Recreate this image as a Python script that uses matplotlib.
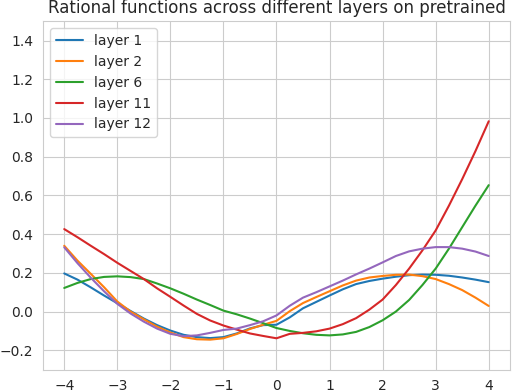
import matplotlib
matplotlib.use("Agg")
import matplotlib.pyplot as plt
import seaborn as sns

# values, every 0.25 along x
x = [-4, -3.75, -3.5, -3.25, -3, -2.75, -2.5, -2.25, -2, -1.75, -1.5, -1.25, -1,
     -0.75, -0.5, -0.25, 0, 0.25, 0.5, 0.75, 1, 1.25, 1.5, 1.75, 2, 2.25, 2.5,
     2.75, 3, 3.25, 3.5, 3.75, 4]

layer1 = [0.197, 0.165, 0.125, 0.083, 0.043, 0.003, -0.036, -0.07, -0.098, -0.12,
          -0.132, -0.137, -0.132, -0.113, -0.087, -0.07, -0.068, -0.03, 0.017, 0.05,
          0.083, 0.115, 0.142, 0.158, 0.17, 0.18, 0.188, 0.191, 0.19, 0.185,
          0.176, 0.165, 0.152]
layer2 = [0.34, 0.263, 0.195, 0.126, 0.052, 0.0, -0.04, -0.078, -0.108, -0.132,
          -0.143, -0.145, -0.138, -0.116, -0.09, -0.068, -0.048, 0.002, 0.044, 0.075,
          0.105, 0.135, 0.16, 0.176, 0.184, 0.19, 0.191, 0.183, 0.168, 0.142,
          0.111, 0.072, 0.029]
layer6 = [0.122, 0.148, 0.168, 0.179, 0.182, 0.178, 0.168, 0.145, 0.12, 0.092,
          0.062, 0.034, 0.005, -0.014, -0.036, -0.06, -0.085, -0.1, -0.112, -0.12,
          -0.123, -0.118, -0.105, -0.08, -0.045, 0.0, 0.06, 0.137, 0.222, 0.325,
          0.436, 0.547, 0.653]
layer11 = [0.426, 0.384, 0.34, 0.297, 0.252, 0.21, 0.168, 0.12, 0.076, 0.031,
           -0.012, -0.046, -0.072, -0.093, -0.113, -0.126, -0.138, -0.115, -0.11, -0.102,
           -0.088, -0.065, -0.034, 0.01, 0.062, 0.137, 0.222, 0.316, 0.419, 0.547,
           0.684, 0.829, 0.983]
layer12 = [0.332, 0.25, 0.175, 0.105, 0.04, -0.01, -0.052, -0.088, -0.115, -0.127,
           -0.123, -0.11, -0.095, -0.088, -0.07, -0.05, -0.02, 0.03, 0.072, 0.1,
           0.13, 0.16, 0.192, 0.222, 0.254, 0.287, 0.311, 0.325, 0.333, 0.333,
           0.325, 0.31, 0.287]

series = [("layer 1", layer1), ("layer 2", layer2), ("layer 6", layer6),
          ("layer 11", layer11), ("layer 12", layer12)]

sns.set_style("whitegrid")
fig, ax = plt.subplots(figsize=(5.12, 3.92), dpi=100)
plt.subplots_adjust(left=0.084, right=0.996, top=0.946, bottom=0.057)

for name, y in series:
    ax.plot(x, y, label=name, linewidth=1.5)

ax.set_ylim(-0.3, 1.5)
ax.set_title("Rational functions across different layers on pretrained")
ax.legend(loc="upper left")

plt.savefig("out.png", dpi=100)
